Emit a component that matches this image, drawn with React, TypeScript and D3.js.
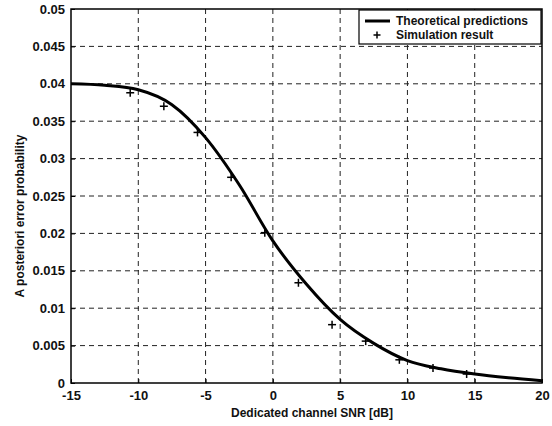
import * as d3 from "d3";
import React, { useRef, useEffect } from "react";

// theoretical curve (SNR dB, probability)
const theoryX = [-15, -12.5, -10, -7.5, -5, -2.5, 0, 2.5, 5, 7.5, 10, 12.5, 15, 17.5, 20];
const theoryY = [0.04, 0.0398, 0.0392, 0.0372, 0.0328, 0.0265, 0.019, 0.0132, 0.0085, 0.0053, 0.003, 0.0019, 0.0012, 0.0007, 0.0003];

// simulation markers
const simX = [-10.6, -8.1, -5.6, -3.1, -0.6, 1.9, 4.4, 6.9, 9.4, 11.9, 14.4];
const simY = [0.0388, 0.037, 0.0335, 0.0275, 0.0201, 0.0134, 0.0078, 0.0056, 0.0031, 0.002, 0.0012];

const xTicks = [-15, -10, -5, 0, 5, 10, 15, 20];
const yTicks = [0, 0.005, 0.01, 0.015, 0.02, 0.025, 0.03, 0.035, 0.04, 0.045, 0.05];
const legendLabels = ["Theoretical predictions", "Simulation result"];

const App = () => {
	const svgRef = useRef(null);
	const WIDTH = 552;
	const HEIGHT = 426;
	const L = 71, R = 542, T = 9, B = 383;

	useEffect(() => {
		const svg = d3.select(svgRef.current);
		svg.selectAll("*").remove();
		const font = "Arial, 'Liberation Sans', sans-serif";

		const x = d3.scaleLinear().domain([-15, 20]).range([L, R]);
		const y = d3.scaleLinear().domain([0, 0.05]).range([B, T]);

		svg.append("rect").attr("width", WIDTH).attr("height", HEIGHT).attr("fill", "#fff");

		// grid
		const grid = svg.append("g").attr("stroke", "#222").attr("stroke-width", 1).attr("stroke-dasharray", "5,4");
		grid
			.selectAll("line.v")
			.data(xTicks.slice(1, -1))
			.join("line")
			.attr("x1", (d) => x(d))
			.attr("x2", (d) => x(d))
			.attr("y1", T)
			.attr("y2", B);
		grid
			.selectAll("line.h")
			.data(yTicks.slice(1, -1))
			.join("line")
			.attr("x1", L)
			.attr("x2", R)
			.attr("y1", (d) => y(d))
			.attr("y2", (d) => y(d));

		// axes
		const xAxis = svg
			.append("g")
			.attr("transform", `translate(0,${B})`)
			.call(d3.axisBottom(x).tickValues(xTicks).tickSizeInner(-4).tickSizeOuter(0).tickPadding(8).tickFormat(d3.format("d")));
		const yAxis = svg
			.append("g")
			.attr("transform", `translate(${L},0)`)
			.call(d3.axisLeft(y).tickValues(yTicks).tickSizeInner(-4).tickSizeOuter(0).tickPadding(6).tickFormat((d) => String(+d.toFixed(3))));
		[xAxis, yAxis].forEach((g) => {
			g.select(".domain").remove();
			g.selectAll("line").attr("stroke", "#000");
			g.selectAll("text").attr("font-family", font).attr("font-size", 13).attr("font-weight", "bold").attr("fill", "#111");
		});
		xAxis.selectAll("text").text((d) => (d < 0 ? "-" + Math.abs(d) : String(d)));

		svg
			.append("rect")
			.attr("x", L)
			.attr("y", T)
			.attr("width", R - L)
			.attr("height", B - T)
			.attr("fill", "none")
			.attr("stroke", "#000")
			.attr("stroke-width", 1.5);

		// theory line
		const line = d3
			.line()
			.curve(d3.curveMonotoneX)
			.x((d) => x(d[0]))
			.y((d) => y(d[1]));
		svg
			.append("path")
			.datum(theoryX.map((v, i) => [v, theoryY[i]]))
			.attr("fill", "none")
			.attr("stroke", "#000")
			.attr("stroke-width", 3)
			.attr("stroke-linejoin", "round")
			.attr("d", line);

		// simulation "+" markers
		const plus = (g, cx, cy, s) => {
			g.append("line").attr("x1", cx - s).attr("x2", cx + s).attr("y1", cy).attr("y2", cy);
			g.append("line").attr("x1", cx).attr("x2", cx).attr("y1", cy - s).attr("y2", cy + s);
		};
		const marks = svg.append("g").attr("stroke", "#000").attr("stroke-width", 1.5);
		simX.forEach((v, i) => plus(marks, x(v), y(simY[i]), 4));

		// legend
		const lg = svg.append("g");
		lg.append("rect")
			.attr("x", 359)
			.attr("y", 10)
			.attr("width", 182)
			.attr("height", 34)
			.attr("fill", "#fff")
			.attr("stroke", "#000")
			.attr("stroke-width", 1.2);
		lg.append("line").attr("x1", 365).attr("x2", 390).attr("y1", 21).attr("y2", 21).attr("stroke", "#000").attr("stroke-width", 3);
		plus(lg.append("g").attr("stroke", "#000").attr("stroke-width", 1.5), 377, 35, 3.5);
		lg.selectAll("text")
			.data(legendLabels)
			.join("text")
			.attr("x", 396)
			.attr("y", (d, i) => 21 + i * 14)
			.attr("dy", "0.35em")
			.attr("font-family", font)
			.attr("font-size", 12)
			.attr("font-weight", "bold")
			.attr("fill", "#111")
			.text((d) => d);

		// axis titles
		svg
			.append("text")
			.attr("x", 312)
			.attr("y", 417)
			.attr("text-anchor", "middle")
			.attr("font-family", font)
			.attr("font-size", 12)
			.attr("font-weight", "bold")
			.attr("fill", "#111")
			.text("Dedicated channel SNR [dB]");
		svg
			.append("text")
			.attr("transform", `translate(24,${(T + B) / 2 + 20}) rotate(-90)`)
			.attr("text-anchor", "middle")
			.attr("font-family", font)
			.attr("font-size", 12)
			.attr("font-weight", "bold")
			.attr("fill", "#111")
			.text("A posteriori error probability");
	}, []);

	return <svg ref={svgRef} width={WIDTH} height={HEIGHT} viewBox={`0 0 ${WIDTH} ${HEIGHT}`} style={{ position: "absolute", left: 0, top: 0 }} />;
};

export default App;
